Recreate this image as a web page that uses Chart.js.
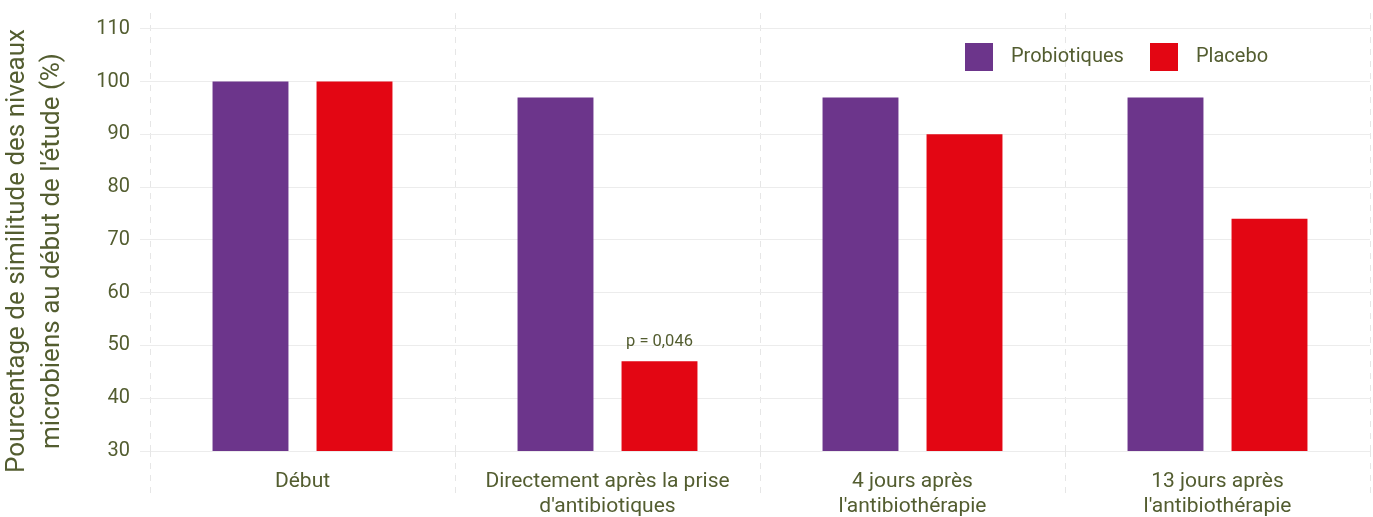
<!DOCTYPE html>
<html lang="fr">
<head>
<meta charset="utf-8">
<script src="https://cdn.jsdelivr.net/npm/chart.js@4"></script>
<style>
  html, body { margin: 0; padding: 0; background: #fff; }
  #wrap { width: 1373px; height: 517px; position: relative; }
</style>
</head>
<body>
<div id="wrap"><canvas id="chart"></canvas></div>
<script>
// données
const categories = [
  "Début",
  ["Directement après la prise", "d'antibiotiques"],
  ["4 jours après", "l'antibiothérapie"],
  ["13 jours après", "l'antibiothérapie"]
];
const probiotiques = [100, 97, 97, 97];
const placebo = [100, 47, 90, 74];
const yTicks = [30, 40, 50, 60, 70, 80, 90, 100, 110];
const titreY = ["Pourcentage de similitude des niveaux", "microbiens au début de l'étude (%)"];
const noteP = "p = 0,046";

const TXT = "#535d30";
const FONT = "Roboto, 'Open Sans', sans-serif";

// légende dessinée dans la zone du graphique (en haut à droite)
const legendeInterne = {
  id: "legendeInterne",
  afterDraw(chart) {
    const c = chart.ctx;
    const pos = [965, 1150];
    c.save();
    c.font = "20px " + FONT;
    c.textBaseline = "middle";
    chart.data.datasets.forEach((ds, i) => {
      c.fillStyle = ds.backgroundColor;
      c.fillRect(pos[i], 43, 28, 28);
      c.fillStyle = TXT;
      c.fillText(ds.label, pos[i] + 46, 57);
    });
    c.restore();
  }
};

// titre de l'axe Y (centré sur la hauteur de la figure)
const titreAxeY = {
  id: "titreAxeY",
  afterDraw(chart) {
    const c = chart.ctx;
    c.save();
    c.translate(0, 251);
    c.rotate(-Math.PI / 2);
    c.font = "26px " + FONT;
    c.fillStyle = TXT;
    c.textAlign = "center";
    c.textBaseline = "middle";
    c.fillText(titreY[0], 0, 17);
    c.fillText(titreY[1], 0, 52);
    c.restore();
  }
};

// annotation p au-dessus de la barre placebo
const noteValeurP = {
  id: "noteValeurP",
  afterDatasetsDraw(chart) {
    const bar = chart.getDatasetMeta(1).data[1];
    if (!bar) return;
    const c = chart.ctx;
    c.save();
    c.font = "16.5px " + FONT;
    c.fillStyle = TXT;
    c.textAlign = "center";
    c.textBaseline = "bottom";
    c.fillText(noteP, bar.x, bar.y - 11);
    c.restore();
  }
};

// prolonge les lignes verticales pointillées sous l'axe
const prolongeGrille = {
  id: "prolongeGrille",
  beforeDatasetsDraw(chart) {
    const a = chart.chartArea, c = chart.ctx;
    c.save();
    c.strokeStyle = "#e6e6e6";
    c.lineWidth = 1;
    c.setLineDash([6, 6]);
    for (let i = 0; i <= categories.length; i++) {
      const px = Math.round(a.left + i * (a.right - a.left) / categories.length) + 0.5;
      c.beginPath();
      c.moveTo(px, a.bottom);
      c.lineTo(px, a.bottom + 46);
      c.stroke();
    }
    c.restore();
  }
};

new Chart(document.getElementById("chart"), {
  type: "bar",
  data: {
    labels: categories,
    datasets: [
      { label: "Probiotiques", data: probiotiques, backgroundColor: "#6c358b" },
      { label: "Placebo", data: placebo, backgroundColor: "#e30613" }
    ]
  },
  options: {
    responsive: true,
    maintainAspectRatio: false,
    animation: false,
    layout: { padding: { top: 13, right: 3, left: 0, bottom: 0 } },
    datasets: { bar: { categoryPercentage: 0.682, barPercentage: 0.73 } },
    plugins: {
      legend: { display: false },
      tooltip: { enabled: false }
    },
    scales: {
      x: {
        grid: {
          offset: true,
          color: "#e6e6e6",
          drawTicks: false
        },
        border: { display: false, dash: [6, 6] },
        ticks: {
          color: TXT,
          font: { family: FONT, size: 21, lineHeight: 1.2 },
          padding: 18,
          maxRotation: 0
        },
        afterFit: s => { s.height = 66; s.paddingLeft = 0; s.paddingRight = 0; }
      },
      y: {
        min: 30,
        max: 113,
        afterBuildTicks: s => { s.ticks = yTicks.map(v => ({ value: v })); },
        grid: { color: "#ececec", tickLength: 10, tickColor: "#ececec" },
        border: { display: false },
        ticks: {
          color: TXT,
          font: { family: FONT, size: 20 },
          padding: 10
        },
        afterFit: s => { s.width = 150; s.paddingTop = 0; s.paddingBottom = 0; }
      }
    }
  },
  plugins: [legendeInterne, titreAxeY, noteValeurP, prolongeGrille]
});
</script>
</body>
</html>
